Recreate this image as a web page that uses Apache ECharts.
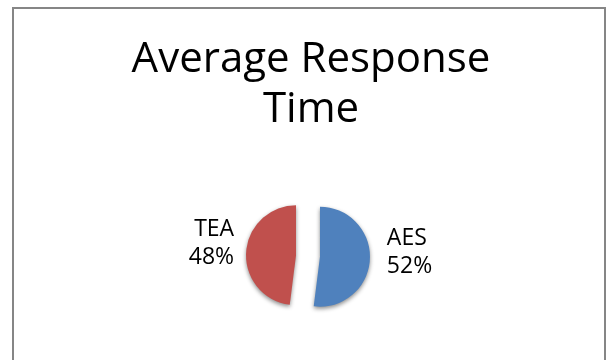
<!DOCTYPE html>
<html>
<head>
<meta charset="utf-8">
<script src="https://cdn.jsdelivr.net/npm/echarts@6/dist/echarts.min.js"></script>
<style>
  html, body { margin: 0; padding: 0; background: #fff; }
  #chart { width: 608px; height: 360px; }
</style>
</head>
<body>
<div id="chart"></div>
<script>
// Average response time share per system
const titleLines = ['Average Response', 'Time'];
const categories = ['AES', 'TEA'];
const shares = [52, 48];
const sliceColors = ['#4F81BD', '#C0504D'];
const labelLineLengths = [10, 5];

const chart = echarts.init(document.getElementById('chart'), null, { renderer: 'canvas' });

const pieData = categories.map((name, i) => ({
  name: name,
  value: shares[i],
  selected: true,
  itemStyle: { color: sliceColors[i] },
  labelLine: { length: labelLineLengths[i] }
}));

chart.setOption({
  animation: false,
  backgroundColor: '#ffffff',
  title: {
    text: titleLines.join('\n'),
    left: 306,
    top: 30,
    textAlign: 'center',
    textStyle: {
      fontFamily: 'Open Sans',
      fontWeight: 'normal',
      fontSize: 42,
      lineHeight: 50,
      color: '#000000'
    }
  },
  graphic: [{
    type: 'rect',
    shape: { x: 13, y: 8, width: 592, height: 370 },
    style: { fill: 'none', stroke: '#868686', lineWidth: 2 },
    silent: true
  }],
  series: [{
    type: 'pie',
    center: [308, 256],
    radius: [0, 50],
    startAngle: 90,
    clockwise: true,
    selectedMode: 'multiple',
    selectedOffset: 12,
    avoidLabelOverlap: false,
    label: {
      show: true,
      position: 'outside',
      // a short spacer line under the two text lines lifts the block a little
      formatter: (p) => '{t|' + p.name + '}\n{t|' + Math.round(p.percent) + '%}\n{gap| }',
      color: '#000000',
      rich: {
        t: { fontFamily: 'Open Sans', fontSize: 23, lineHeight: 28, color: '#000000' },
        gap: { fontSize: 2, lineHeight: 16 }
      }
    },
    labelLine: { show: false, length: 10, length2: 2 },
    itemStyle: {
      shadowBlur: 4,
      shadowOffsetY: 2,
      shadowColor: 'rgba(0,0,0,0.45)'
    },
    emphasis: { disabled: true },
    data: pieData
  }]
});
</script>
</body>
</html>
